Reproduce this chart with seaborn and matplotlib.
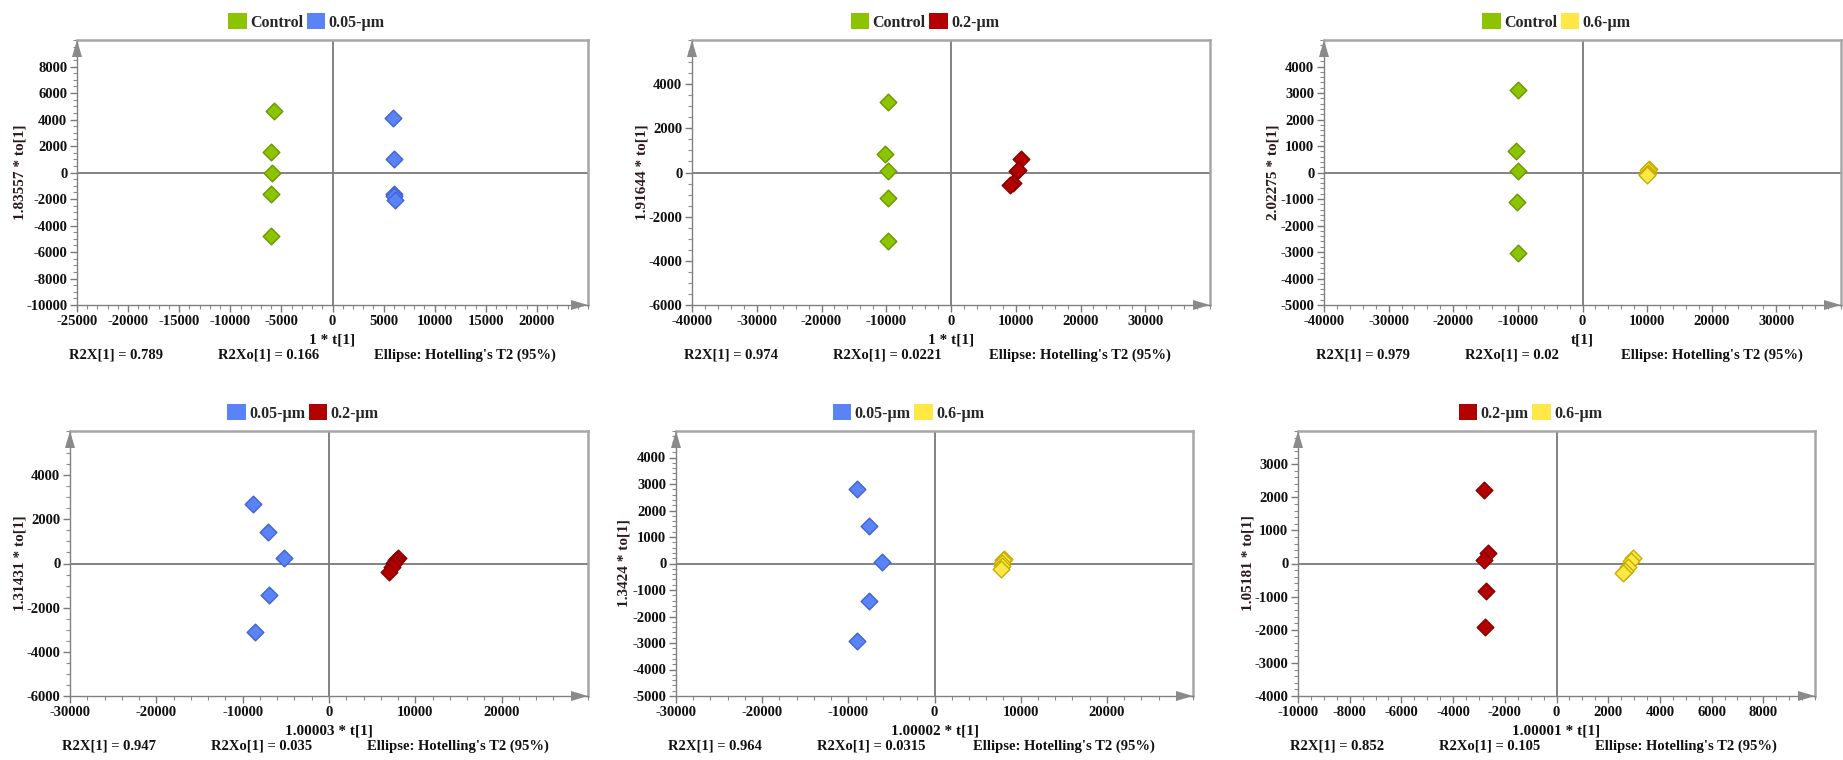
import numpy as np
import pandas as pd
import matplotlib
matplotlib.use("Agg")
import matplotlib.pyplot as plt
import seaborn as sns
from matplotlib.ticker import AutoMinorLocator
from matplotlib.patches import Polygon, Patch

sns.set_theme(style="white")
plt.rcParams['font.family'] = ['Liberation Serif', 'DejaVu Serif']
plt.rcParams['font.weight'] = 'bold'
plt.rcParams['axes.unicode_minus'] = False

# ---------------- data ----------------
group_names = ["Control", "0.05-µm", "0.2-µm", "0.6-µm"]
fill_colors = {"Control": "#8CC400", "0.05-µm": "#5A84F5", "0.2-µm": "#B30000", "0.6-µm": "#FFE845"}
edge_colors = {"Control": "#6A9800", "0.05-µm": "#3F63D8", "0.2-µm": "#880000", "0.6-µm": "#C4AE00"}

# Panel 1: Control vs 0.05-µm
p1_control_x = [-5770, -6000, -5920, -6000, -6000]
p1_control_y = [4625, 1550, -50, -1600, -4775]
p1_005_x = [5920, 6040, 6040, 5990, 6115]
p1_005_y = [4125, 1025, -1625, -1800, -2050]

# Panel 2: Control vs 0.2-µm
p2_control_x = [-9800, -10250, -9700, -9800, -9700]
p2_control_y = [3185, 860, 60, -1140, -3080]
p2_02_x = [10860, 10120, 10370, 9500, 9140]
p2_02_y = [630, 50, 120, -460, -585]

# Panel 3: Control vs 0.6-µm
p3_control_x = [-9940, -10360, -9940, -10120, -9940]
p3_control_y = [3125, 825, 50, -1100, -3025]
p3_06_x = [10300, 10200, 10100, 10000, 10050]
p3_06_y = [150, 80, 0, -60, -100]

# Panel 4: 0.05-µm vs 0.2-µm
p4_005_x = [-8860, -7050, -5270, -6900, -8550]
p4_005_y = [2700, 1440, 230, -1410, -3100]
p4_02_x = [7950, 7730, 7500, 7270, 6950]
p4_02_y = [260, 150, 30, -150, -390]

# Panel 5: 0.05-µm vs 0.6-µm
p5_005_x = [-9050, -7550, -6050, -7550, -9050]
p5_005_y = [2810, 1410, 50, -1425, -2925]
p5_06_x = [8100, 7950, 7860, 7860, 7770]
p5_06_y = [160, 125, 25, -100, -190]

# Panel 6: 0.2-µm vs 0.6-µm
p6_02_x = [-2800, -2650, -2820, -2710, -2760]
p6_02_y = [2230, 330, 110, -820, -1930]
p6_06_x = [2950, 2880, 2780, 2650, 2560]
p6_06_y = [170, 90, -100, -220, -300]

x_labels = ["1 * t[1]", "1 * t[1]", "t[1]", "1.00003 * t[1]", "1.00002 * t[1]", "1.00001 * t[1]"]
y_labels = ["1.83557 * to[1]", "1.91644 * to[1]", "2.02275 * to[1]",
            "1.31431 * to[1]", "1.3424 * to[1]", "1.05181 * to[1]"]
r2x_values = ["0.789", "0.974", "0.979", "0.947", "0.964", "0.852"]
r2xo_values = ["0.166", "0.0221", "0.02", "0.035", "0.0315", "0.105"]
x_limits = [25000, 40000, 40000, 30000, 30000, 10000]
x_steps = [5000, 10000, 10000, 10000, 10000, 2000]
y_limits = [10000, 6000, 5000, 6000, 5000, 4000]
y_steps = [2000, 2000, 1000, 2000, 1000, 1000]

panels = [
    [("Control", p1_control_x, p1_control_y), ("0.05-µm", p1_005_x, p1_005_y)],
    [("Control", p2_control_x, p2_control_y), ("0.2-µm", p2_02_x, p2_02_y)],
    [("Control", p3_control_x, p3_control_y), ("0.6-µm", p3_06_x, p3_06_y)],
    [("0.05-µm", p4_005_x, p4_005_y), ("0.2-µm", p4_02_x, p4_02_y)],
    [("0.05-µm", p5_005_x, p5_005_y), ("0.6-µm", p5_06_x, p5_06_y)],
    [("0.2-µm", p6_02_x, p6_02_y), ("0.6-µm", p6_06_x, p6_06_y)],
]

# ---------------- layout (pixels) ----------------
W, H = 1843, 760
boxes = [(77, 588, 40, 305), (692, 1210, 40, 305), (1324, 1841, 40, 305),
         (70, 588, 431, 696), (676, 1193, 431, 696), (1298, 1815, 431, 696)]
ylabel_x = [20, 642, 1273, 20, 624, 1248]

fig = plt.figure(figsize=(W / 100, H / 100), dpi=100)
fig.patch.set_facecolor("white")

def fx(px):
    return px / W

def fy(py):
    return 1 - py / H

for i, (L, R, T, B) in enumerate(boxes):
    ax = fig.add_axes([fx(L), fy(B), (R - L) / W, (B - T) / H])
    ax.set_facecolor("white")
    xl, yl = x_limits[i], y_limits[i]
    ax.axhline(0, color="#7a7a7a", lw=1.3, zorder=1)
    ax.axvline(0, color="#7a7a7a", lw=1.3, zorder=1)

    rows = []
    for name, xs, ys in panels[i]:
        for xv, yv in zip(xs, ys):
            rows.append({"t": xv, "to": yv, "group": name})
    df = pd.DataFrame(rows)
    for name, _, _ in panels[i]:
        sub = df[df["group"] == name]
        sns.scatterplot(data=sub, x="t", y="to", ax=ax, marker="D", s=72,
                        color=fill_colors[name], edgecolor=edge_colors[name],
                        linewidth=1.0, zorder=3, legend=False)

    ax.set_xlim(-xl, xl)
    ax.set_ylim(-yl, yl)
    ax.set_xticks(np.arange(-xl, xl, x_steps[i]))
    ax.set_yticks(np.arange(-yl, yl, y_steps[i]))
    ax.xaxis.set_minor_locator(AutoMinorLocator())
    ax.yaxis.set_minor_locator(AutoMinorLocator())
    ax.tick_params(axis="both", which="major", direction="out", length=5, width=1,
                   color="#7a7a7a", labelsize=10.5, labelcolor="#111111", pad=2,
                   bottom=True, left=True)
    ax.tick_params(axis="both", which="minor", direction="out", length=3, width=0.8,
                   color="#8a8a8a", bottom=True, left=True)
    ax.set_xlabel("")
    ax.set_ylabel("")
    for side in ["left", "bottom"]:
        ax.spines[side].set_color("#808080")
        ax.spines[side].set_linewidth(1.0)
    for side in ["top", "right"]:
        ax.spines[side].set_color("#a6a6a6")
        ax.spines[side].set_linewidth(1.8)

    aw, ah = R - L, B - T
    hl, hw = 17, 5
    ax.add_patch(Polygon([(0, 1), (-hw / aw, 1 - hl / ah), (hw / aw, 1 - hl / ah)],
                         closed=True, transform=ax.transAxes, clip_on=False,
                         facecolor="#8a8a8a", edgecolor="none", zorder=5))
    ax.add_patch(Polygon([(1, 0), (1 - hl / aw, hw / ah), (1 - hl / aw, -hw / ah)],
                         closed=True, transform=ax.transAxes, clip_on=False,
                         facecolor="#8a8a8a", edgecolor="none", zorder=5))

    # x label centred on x = 0
    cx = L + aw / 2
    fig.text(fx(cx), fy(B + 35), x_labels[i], ha="center", va="center",
             fontsize=11, color="#111111")
    # y label
    fig.text(fx(ylabel_x[i]), fy(T + ah / 2), y_labels[i], rotation=90,
             ha="center", va="center", fontsize=11, color="#2e1a1a")
    # stats line
    sy = fy(B + 50)
    fig.text(fx(L - 8), sy, f"R2X[1] = {r2x_values[i]}", ha="left", va="center",
             fontsize=10.5, color="#111111")
    fig.text(fx(L + 141), sy, f"R2Xo[1] = {r2xo_values[i]}", ha="left", va="center",
             fontsize=10.5, color="#111111")
    fig.text(fx(L + 297), sy, "Ellipse: Hotelling's T2 (95%)", ha="left", va="center",
             fontsize=10.5, color="#111111")

    # legend
    handles = [Patch(facecolor=fill_colors[name], edgecolor="none", label=name)
               for name, _, _ in panels[i]]
    fig.legend(handles=handles, loc="center", ncol=2,
               bbox_to_anchor=(fx(cx - 26), fy(T - 18)), frameon=False,
               fontsize=11.5, handlelength=1.15, handleheight=1.15,
               handletextpad=0.2, columnspacing=0.25, borderpad=0, borderaxespad=0)

fig.savefig("out.png", dpi=100, facecolor="white")
